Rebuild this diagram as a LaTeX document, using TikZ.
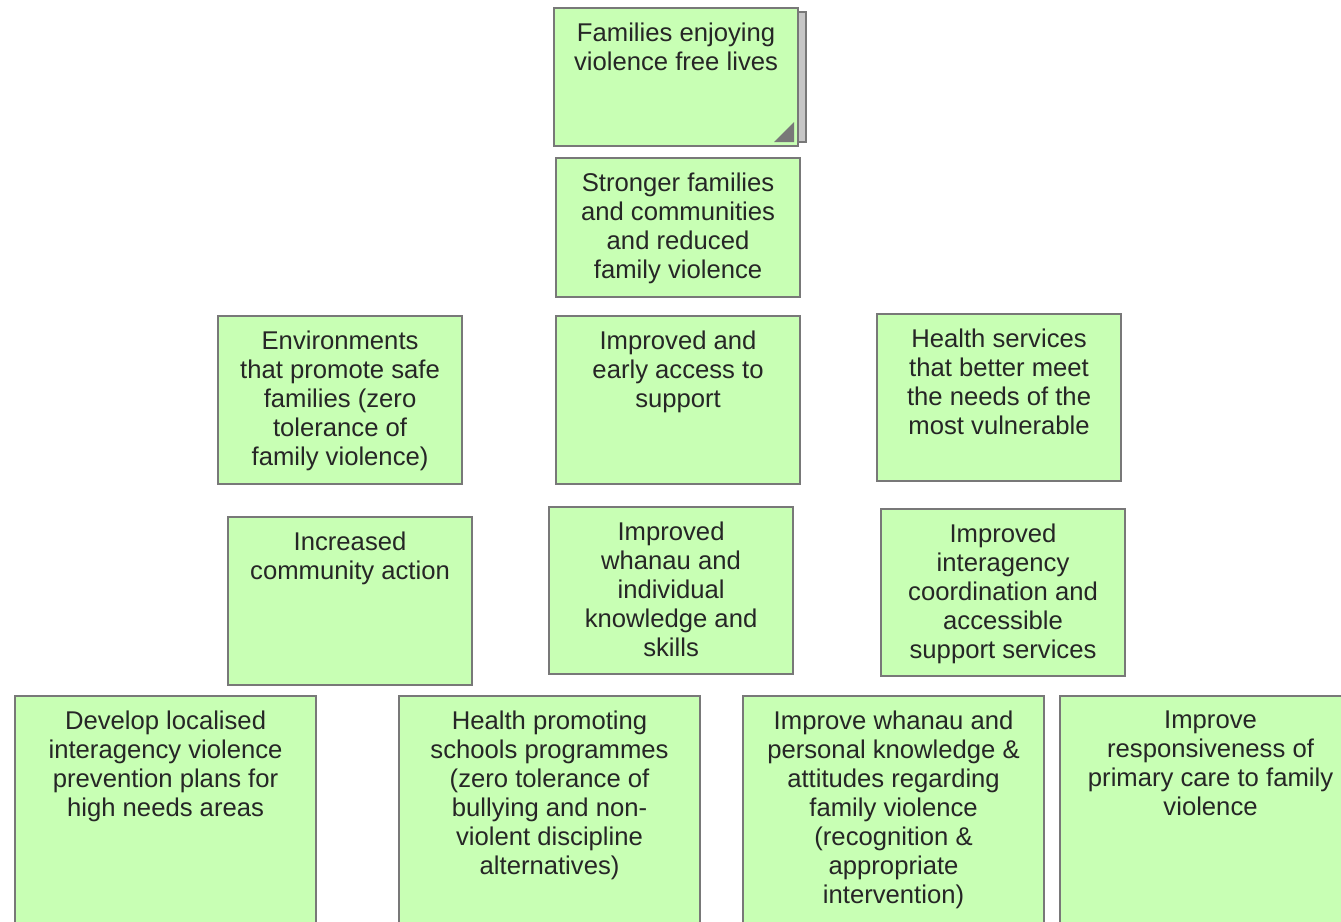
\documentclass[tikz,border=0pt]{standalone}
\usepackage{fontspec}
\setmainfont{Liberation Sans}
\definecolor{goalfill}{RGB}{200,255,180}
\definecolor{goalline}{RGB}{120,120,120}
\tikzset{goal/.style={rectangle, draw=goalline, fill=goalfill, line width=0.6pt, anchor=north west, inner sep=0pt},
         goaltext/.style={anchor=north, align=center, inner sep=0pt, text=black!85, font=\fontsize{7.3pt}{8.25pt}\selectfont}}

\begin{document}
\begin{tikzpicture}
\useasboundingbox (0,0) rectangle (13.41,-9.22);

%top box with shadow and fold
\node[goal, fill=gray!45, minimum width=2.44cm, minimum height=1.30cm] (famS) at (5.61,-0.11) {};
\node[goal, minimum width=2.44cm, minimum height=1.38cm] (fam) at (5.53,-0.07) {};
\fill[goalline] ([xshift=-0.25cm,yshift=0.05cm]fam.south east) -- ([xshift=-0.05cm,yshift=0.25cm]fam.south east) -- ([xshift=-0.05cm,yshift=0.05cm]fam.south east) -- cycle;
\node[goaltext] (famT) at ([yshift=-0.15cm]fam.north) {Families enjoying\\violence free lives};

%second level
\node[goal, minimum width=2.44cm, minimum height=1.39cm] (strong) at (5.55,-1.57) {};
\node[goaltext] (strongT) at ([yshift=-0.15cm]strong.north) {Stronger families\\and communities\\and reduced\\family violence};

%third level
\node[goal, minimum width=2.44cm, minimum height=1.68cm] (env) at (2.17,-3.15) {};
\node[goaltext] (envT) at ([yshift=-0.15cm]env.north) {Environments\\that promote safe\\families (zero\\tolerance of\\family violence)};
\node[goal, minimum width=2.44cm, minimum height=1.68cm] (access) at (5.55,-3.15) {};
\node[goaltext] (accessT) at ([yshift=-0.15cm]access.north) {Improved and\\early access to\\support};
\node[goal, minimum width=2.44cm, minimum height=1.67cm] (health) at (8.76,-3.13) {};
\node[goaltext] (healthT) at ([yshift=-0.15cm]health.north) {Health services\\that better meet\\the needs of the\\most vulnerable};

%fourth level
\node[goal, minimum width=2.44cm, minimum height=1.68cm] (comm) at (2.27,-5.16) {};
\node[goaltext] (commT) at ([yshift=-0.15cm]comm.north) {Increased\\community action};
\node[goal, minimum width=2.44cm, minimum height=1.67cm] (know) at (5.48,-5.06) {};
\node[goaltext] (knowT) at ([yshift=-0.15cm]know.north) {Improved\\whanau and\\individual\\knowledge and\\skills};
\node[goal, minimum width=2.44cm, minimum height=1.67cm] (coord) at (8.80,-5.08) {};
\node[goaltext] (coordT) at ([yshift=-0.15cm]coord.north) {Improved\\interagency\\coordination and\\accessible\\support services};

%bottom row
\node[goal, minimum width=3.01cm, minimum height=2.60cm] (plans) at (0.14,-6.95) {};
\node[goaltext] (plansT) at ([yshift=-0.15cm]plans.north) {Develop localised\\interagency violence\\prevention plans for\\high needs areas};
\node[goal, minimum width=3.01cm, minimum height=2.60cm] (school) at (3.98,-6.95) {};
\node[goaltext] (schoolT) at ([yshift=-0.15cm]school.north) {Health promoting\\schools programmes\\(zero tolerance of\\bullying and non-\\violent discipline\\alternatives)};
\node[goal, minimum width=3.01cm, minimum height=2.60cm] (attit) at (7.42,-6.95) {};
\node[goaltext] (attitT) at ([yshift=-0.15cm]attit.north) {Improve whanau and\\personal knowledge \&\\attitudes regarding\\family violence\\(recognition \&\\appropriate\\intervention)};
\node[goal, minimum width=3.01cm, minimum height=2.60cm] (primary) at (10.59,-6.95) {};
\node[goaltext] (primaryT) at ([yshift=-0.15cm]primary.north) {Improve\\responsiveness of\\primary care to family\\violence};
\end{tikzpicture}
\end{document}
